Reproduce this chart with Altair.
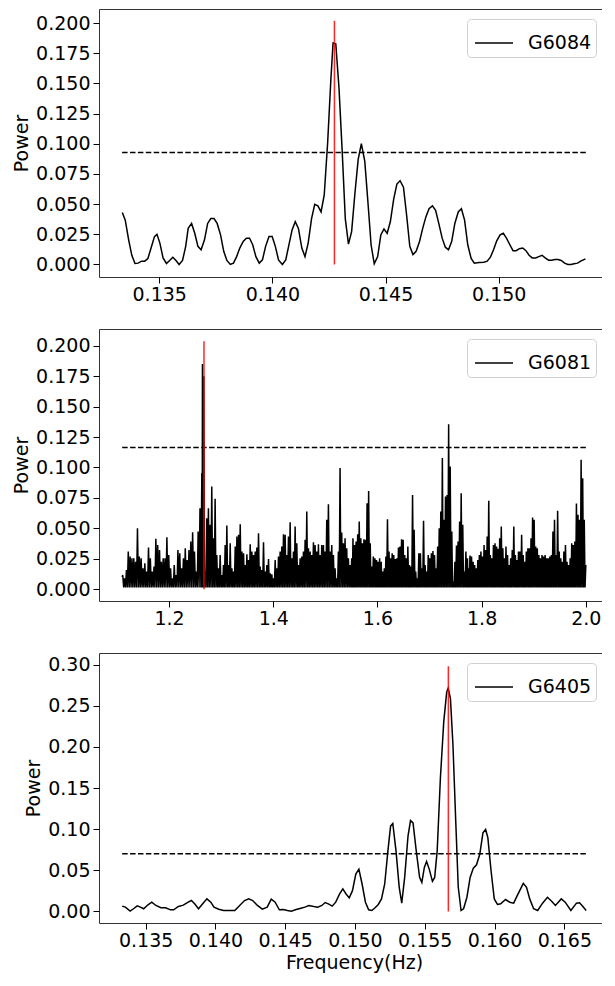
import altair as alt
import numpy as np
import pandas as pd

FONT = "DejaVu Sans"

# ---------------- Panel 1 : G6084 ----------------
f1 = [0.13337, 0.13350, 0.13365, 0.13379, 0.13393, 0.13407, 0.13422, 0.13436, 0.13450, 0.13464,
      0.13479, 0.13490, 0.13503, 0.13517, 0.13532, 0.13546, 0.13560, 0.13574, 0.13588, 0.13603,
      0.13617, 0.13628, 0.13643, 0.13657, 0.13671, 0.13685, 0.13700, 0.13714, 0.13728, 0.13742,
      0.13756, 0.13771, 0.13785, 0.13799, 0.13814, 0.13828, 0.13842, 0.13856, 0.13871, 0.13885,
      0.13899, 0.13913, 0.13927, 0.13942, 0.13956, 0.13970, 0.13985, 0.13999, 0.14013, 0.14027,
      0.14044, 0.14059, 0.14073, 0.14087, 0.14101, 0.14115, 0.14130, 0.14144, 0.14158, 0.14173,
      0.14187, 0.14201, 0.14215, 0.14229, 0.14244, 0.14258, 0.14268, 0.14280, 0.14294, 0.14308,
      0.14322, 0.14336, 0.14350, 0.14365, 0.14379, 0.14393, 0.14408, 0.14422, 0.14436, 0.14450,
      0.14465, 0.14479, 0.14493, 0.14507, 0.14521, 0.14536, 0.14550, 0.14564, 0.14579, 0.14593,
      0.14607, 0.14621, 0.14635, 0.14650, 0.14664, 0.14678, 0.14692, 0.14707, 0.14721, 0.14735,
      0.14750, 0.14764, 0.14778, 0.14792, 0.14806, 0.14821, 0.14835, 0.14849, 0.14863, 0.14878,
      0.14892, 0.14913, 0.14934, 0.14949, 0.14963, 0.14977, 0.14991, 0.15006, 0.15020, 0.15034,
      0.15049, 0.15063, 0.15077, 0.15091, 0.15106, 0.15120, 0.15134, 0.15148, 0.15163, 0.15177,
      0.15191, 0.15205, 0.15220, 0.15234, 0.15248, 0.15262, 0.15276, 0.15291, 0.15305, 0.15319,
      0.15333, 0.15348, 0.15362, 0.15383]
p1 = [0.0430, 0.0367, 0.0204, 0.0076, 0.0008, 0.0011, 0.0027, 0.0027, 0.0049, 0.0136,
      0.0231, 0.0250, 0.0177, 0.0054, 0.0008, 0.0033, 0.0060, 0.0033, 0.0000, 0.0033,
      0.0150, 0.0299, 0.0340, 0.0258, 0.0150, 0.0122, 0.0204, 0.0340, 0.0380, 0.0380,
      0.0340, 0.0245, 0.0109, 0.0033, 0.0000, 0.0011, 0.0065, 0.0136, 0.0190, 0.0218,
      0.0218, 0.0163, 0.0065, 0.0011, 0.0038, 0.0150, 0.0231, 0.0231, 0.0150, 0.0038,
      0.0000, 0.0038, 0.0163, 0.0286, 0.0354, 0.0299, 0.0136, 0.0065, 0.0177, 0.0380,
      0.0498, 0.0485, 0.0435, 0.0576, 0.1007, 0.1523, 0.1835, 0.1829, 0.1469, 0.0952,
      0.0380, 0.0168, 0.0272, 0.0598, 0.0870, 0.1001, 0.0857, 0.0517, 0.0163, 0.0005,
      0.0065, 0.0245, 0.0294, 0.0258, 0.0354, 0.0544, 0.0666, 0.0694, 0.0640, 0.0408,
      0.0150, 0.0082, 0.0109, 0.0190, 0.0299, 0.0394, 0.0462, 0.0485, 0.0449, 0.0340,
      0.0218, 0.0143, 0.0122, 0.0190, 0.0340, 0.0435, 0.0462, 0.0367, 0.0163, 0.0049,
      0.0011, 0.0016, 0.0019, 0.0027, 0.0060, 0.0122, 0.0196, 0.0245, 0.0258, 0.0218,
      0.0163, 0.0114, 0.0114, 0.0131, 0.0136, 0.0114, 0.0076, 0.0054, 0.0054, 0.0065,
      0.0076, 0.0054, 0.0035, 0.0035, 0.0041, 0.0041, 0.0033, 0.0011, 0.0000, 0.0000,
      0.0005, 0.0011, 0.0027, 0.0046]

# ---------------- Panel 2 : G6081 (dense periodogram) ----------------
# peak heights, grouped by frequency stretch
p2_segA = [0.0118, 0.0090, 0.0159, 0.0310, 0.0269, 0.0255, 0.0255, 0.0227, 0.0501, 0.0269,
           0.0255, 0.0173, 0.0214, 0.0145, 0.0343, 0.0255, 0.0145, 0.0186, 0.0414, 0.0364,
           0.0323, 0.0227, 0.0255, 0.0255, 0.0427, 0.0282, 0.0173, 0.0090, 0.0200, 0.0118,
           0.0323, 0.0296, 0.0173, 0.0255, 0.0337, 0.0241, 0.0323, 0.0392, 0.0469, 0.0310,
           0.0145, 0.0474, 0.0666, 0.0954]
p2_segB = [0.1850, 0.1750]
p2_segC = [0.0145, 0.0584, 0.0666, 0.0529, 0.0844, 0.0419, 0.0743, 0.0282, 0.0173, 0.0282,
           0.0118, 0.0200, 0.0364, 0.0523, 0.0200, 0.0378, 0.0173, 0.0145, 0.0351]
p2_segD = [0.0433, 0.0447, 0.0534, 0.0310, 0.0296, 0.0200, 0.0288, 0.0241, 0.0370, 0.0310,
           0.0282, 0.0310, 0.0343, 0.0460, 0.0186, 0.0159, 0.0386, 0.0145, 0.0200, 0.0249,
           0.0132, 0.0123, 0.0090, 0.0241, 0.0173, 0.0269, 0.0310, 0.0351, 0.0452, 0.0447,
           0.0282, 0.0433, 0.0551, 0.0255, 0.0310, 0.0515, 0.0378, 0.0200, 0.0255, 0.0269,
           0.0310, 0.0406, 0.0638, 0.0337, 0.0310, 0.0282, 0.0386, 0.0364, 0.0310, 0.0370,
           0.0282, 0.0364, 0.0364, 0.0310, 0.0570, 0.0699, 0.0310, 0.0364, 0.0282, 0.0173,
           0.0090, 0.0310, 0.0995, 0.0466, 0.0378, 0.0419, 0.0337, 0.0255, 0.0200, 0.0255]
p2_segE = [0.0419, 0.0364, 0.0392, 0.0452, 0.0556, 0.0419, 0.0378, 0.0411, 0.0406, 0.0707,
           0.0808, 0.0378, 0.0186, 0.0269, 0.0255, 0.0241, 0.0227, 0.0255, 0.0227, 0.0145,
           0.0173, 0.0269, 0.0575, 0.0310, 0.0255, 0.0296, 0.0282, 0.0249, 0.0255, 0.0343,
           0.0351, 0.0411, 0.0406, 0.0282, 0.0255, 0.0351, 0.0200, 0.0186, 0.0775, 0.0488,
           0.0145, 0.0090, 0.0296, 0.0296, 0.0173, 0.0562, 0.0200, 0.0145, 0.0282, 0.0255,
           0.0296, 0.0315, 0.0282, 0.0173, 0.0351, 0.0501, 0.0638, 0.1077, 0.0570, 0.0762,
           0.0775, 0.1356, 0.1008, 0.0474, 0.0063, 0.0227, 0.0359, 0.0392, 0.0556, 0.0789,
           0.0529, 0.0145, 0.0310, 0.0255]
p2_segF = [0.0173, 0.0277, 0.0269, 0.0227, 0.0200, 0.0173, 0.0241, 0.0282, 0.0310, 0.0269,
           0.0364, 0.0323, 0.0433, 0.0726, 0.0282, 0.0255, 0.0364, 0.0378, 0.0351, 0.0332,
           0.0419, 0.0515, 0.0337, 0.0255, 0.0351, 0.0282, 0.0200, 0.0255, 0.0323, 0.0515,
           0.0282, 0.0241, 0.0310, 0.0310, 0.0447, 0.0282, 0.0227, 0.0310, 0.0337, 0.0337,
           0.0419, 0.0589, 0.0570, 0.0351, 0.0337, 0.0282, 0.0255, 0.0282, 0.0269, 0.0282,
           0.0255, 0.0255, 0.0269, 0.0282, 0.0474, 0.0570, 0.0282, 0.0644, 0.0310, 0.0255,
           0.0227, 0.0310, 0.0364, 0.0227, 0.0200, 0.0255, 0.0378, 0.0364, 0.0392, 0.0704,
           0.0611, 0.0570, 0.1063, 0.0912, 0.0570, 0.0200]
# frequency stretch covered by each group (Hz)
seg_ranges = [(1.1111, 1.2629), (1.2641, 1.2667), (1.2691, 1.3270),
              (1.3302, 1.5506), (1.5530, 1.7728), (1.7746, 2.0000)]
p2_floor = 0.0015  # level the spikes drop back to between peaks

# ---------------- Panel 3 : G6405 ----------------
f3 = [0.13332, 0.13355, 0.13389, 0.13413, 0.13440, 0.13463, 0.13486, 0.13517, 0.13544, 0.13574,
      0.13609, 0.13643, 0.13678, 0.13701, 0.13735, 0.13770, 0.13805, 0.13828, 0.13851, 0.13879,
      0.13909, 0.13939, 0.13967, 0.13990, 0.14024, 0.14059, 0.14105, 0.14139, 0.14174, 0.14209,
      0.14239, 0.14267, 0.14301, 0.14336, 0.14371, 0.14400, 0.14428, 0.14458, 0.14486, 0.14516,
      0.14544, 0.14578, 0.14613, 0.14641, 0.14670, 0.14705, 0.14733, 0.14763, 0.14786, 0.14809,
      0.14837, 0.14862, 0.14890, 0.14913, 0.14936, 0.14959, 0.14982, 0.15006, 0.15028, 0.15051,
      0.15075, 0.15098, 0.15121, 0.15144, 0.15167, 0.15190, 0.15213, 0.15236, 0.15255, 0.15271,
      0.15294, 0.15317, 0.15335, 0.15356, 0.15380, 0.15398, 0.15416, 0.15439, 0.15463, 0.15479,
      0.15497, 0.15513, 0.15532, 0.15555, 0.15571, 0.15589, 0.15612, 0.15636, 0.15657, 0.15668,
      0.15684, 0.15702, 0.15721, 0.15740, 0.15760, 0.15778, 0.15802, 0.15825, 0.15848, 0.15871,
      0.15894, 0.15917, 0.15936, 0.15952, 0.15975, 0.15998, 0.16021, 0.16044, 0.16079, 0.16109,
      0.16137, 0.16166, 0.16206, 0.16229, 0.16252, 0.16280, 0.16309, 0.16344, 0.16379, 0.16409,
      0.16436, 0.16478, 0.16506, 0.16547, 0.16587, 0.16609, 0.16633, 0.16656]
p3 = [0.0065, 0.0053, 0.0005, 0.0033, 0.0069, 0.0053, 0.0033, 0.0081, 0.0113, 0.0073,
      0.0045, 0.0045, 0.0020, 0.0020, 0.0061, 0.0077, 0.0113, 0.0133, 0.0093, 0.0033,
      0.0093, 0.0153, 0.0113, 0.0053, 0.0028, 0.0012, 0.0012, 0.0012, 0.0073, 0.0133,
      0.0153, 0.0133, 0.0073, 0.0028, 0.0053, 0.0149, 0.0113, 0.0020, 0.0024, 0.0012,
      0.0004, 0.0024, 0.0040, 0.0053, 0.0073, 0.0061, 0.0053, 0.0073, 0.0109, 0.0093,
      0.0065, 0.0113, 0.0213, 0.0274, 0.0213, 0.0165, 0.0253, 0.0455, 0.0515, 0.0334,
      0.0113, 0.0020, 0.0012, 0.0045, 0.0085, 0.0153, 0.0334, 0.0736, 0.1037, 0.1069,
      0.0736, 0.0294, 0.0101, 0.0414, 0.0917, 0.1105, 0.1077, 0.0736, 0.0414, 0.0354,
      0.0535, 0.0607, 0.0515, 0.0366, 0.0414, 0.0736, 0.1621, 0.2304, 0.2666, 0.2714,
      0.2586, 0.2023, 0.1138, 0.0294, 0.0012, 0.0033, 0.0173, 0.0414, 0.0527, 0.0567,
      0.0695, 0.0957, 0.0997, 0.0897, 0.0495, 0.0153, 0.0085, 0.0093, 0.0145, 0.0113,
      0.0101, 0.0205, 0.0342, 0.0294, 0.0153, 0.0033, 0.0012, 0.0101, 0.0173, 0.0125,
      0.0073, 0.0153, 0.0113, 0.0012, 0.0101, 0.0105, 0.0061, 0.0012]

names = ["G6084", "G6081", "G6405"]
thresholds = [0.0927, 0.1165, 0.0700]
thr_spans = [(0.13336, 0.15385), (1.1100, 2.0000), (0.13332, 0.16656)]
red_x = [0.14274, 1.2670, 0.15669]
red_top = [0.2019, 0.2036, 0.2980]

x_domains = [(0.13234, 0.15487), (1.0655, 2.0445), (0.13166, 0.16820)]
y_domains = [(-0.0104, 0.2117), (-0.0096, 0.2137), (-0.0140, 0.3141)]
x_ticks = [[0.135, 0.140, 0.145, 0.150], [1.2, 1.4, 1.6, 1.8, 2.0],
           [0.135, 0.140, 0.145, 0.150, 0.155, 0.160, 0.165]]
x_formats = [".3f", ".1f", ".3f"]
y_ticks = [[0, 0.025, 0.05, 0.075, 0.1, 0.125, 0.15, 0.175, 0.2],
           [0, 0.025, 0.05, 0.075, 0.1, 0.125, 0.15, 0.175, 0.2],
           [0, 0.05, 0.1, 0.15, 0.2, 0.25, 0.3]]
y_formats = [".3f", ".3f", ".2f"]
heights = [268, 272, 270]
WIDTH = 510

# build panel-2 series: spikes alternating with the floor level
f2_peaks, p2_peaks = [], []
for (a, b), vals in zip(seg_ranges, [p2_segA, p2_segB, p2_segC, p2_segD, p2_segE, p2_segF]):
    f2_peaks.extend(np.linspace(a, b, len(vals)).tolist())
    p2_peaks.extend(vals)
f2, p2 = [1.1100], [0.0100]
for i, (fq, pw) in enumerate(zip(f2_peaks, p2_peaks)):
    f2.append(fq)
    p2.append(pw)
    if i < len(f2_peaks) - 1:
        f2.append((fq + f2_peaks[i + 1]) / 2)
        p2.append(p2_floor)

series = [(f1, p1), (f2, p2), (f3, p3)]


def make_panel(i):
    f, p = series[i]
    xscale = alt.Scale(domain=list(x_domains[i]), nice=False, zero=False)
    yscale = alt.Scale(domain=list(y_domains[i]), nice=False, zero=False)
    xtitle = "Frequency(Hz)" if i == 2 else None
    xaxis = alt.Axis(values=x_ticks[i], format=x_formats[i], title=xtitle)
    yaxis = alt.Axis(values=y_ticks[i], format=y_formats[i], title="Power")

    def X(field):
        return alt.X(field, type="quantitative", scale=xscale, axis=xaxis, title=xtitle)

    def Y(field):
        return alt.Y(field, type="quantitative", scale=yscale, axis=yaxis, title="Power")

    line_df = pd.DataFrame({"f": f, "p": p, "name": names[i]})
    line = alt.Chart(line_df).mark_line(strokeWidth=1.5, clip=True).encode(
        x=X("f"), y=Y("p"),
        color=alt.Color(
            "name:N",
            scale=alt.Scale(domain=[names[i]], range=["black"]),
            legend=alt.Legend(
                title=None, orient="none", legendX=368, legendY=10,
                symbolType="stroke", symbolSize=1444, symbolStrokeWidth=1.5, symbolOffset=3,
                labelFont=FONT, labelFontSize=19, labelColor="black", labelOffset=14,
                fillColor="white", strokeColor="#d0d0d0", cornerRadius=4, padding=4,
            ),
        ),
    )
    thr_df = pd.DataFrame({"x0": [thr_spans[i][0]], "x1": [thr_spans[i][1]], "y": [thresholds[i]]})
    thr = alt.Chart(thr_df).mark_rule(color="black", strokeWidth=1.5, strokeDash=[5.5, 2.4]).encode(
        x=X("x0"), x2="x1", y=Y("y")
    )
    red_df = pd.DataFrame({"x": [red_x[i]], "y0": [0.0], "y1": [red_top[i]]})
    red = alt.Chart(red_df).mark_rule(color="red", strokeWidth=1.5, opacity=0.85).encode(
        x=X("x"), y=Y("y0"), y2="y1"
    )
    return alt.layer(line, thr, red).properties(width=WIDTH, height=heights[i])


chart = alt.vconcat(make_panel(0), make_panel(1), make_panel(2), spacing=23).resolve_scale(
    color="independent", x="independent", y="independent"
).configure(padding={"left": 4, "top": 0, "right": -8, "bottom": 0}).configure_axis(
    labelFont=FONT, labelFontSize=19, labelColor="black",
    titleFont=FONT, titleFontSize=19, titleFontWeight="normal", titleColor="black",
    tickColor="black", tickSize=6, tickWidth=1, domain=False, grid=False,
).configure_axisY(labelPadding=3, titlePadding=4).configure_axisX(labelPadding=2, titlePadding=3).configure_view(
    stroke="#333333", strokeWidth=1
)

chart.save("out.html", embed_options={"renderer": "svg", "actions": False})
